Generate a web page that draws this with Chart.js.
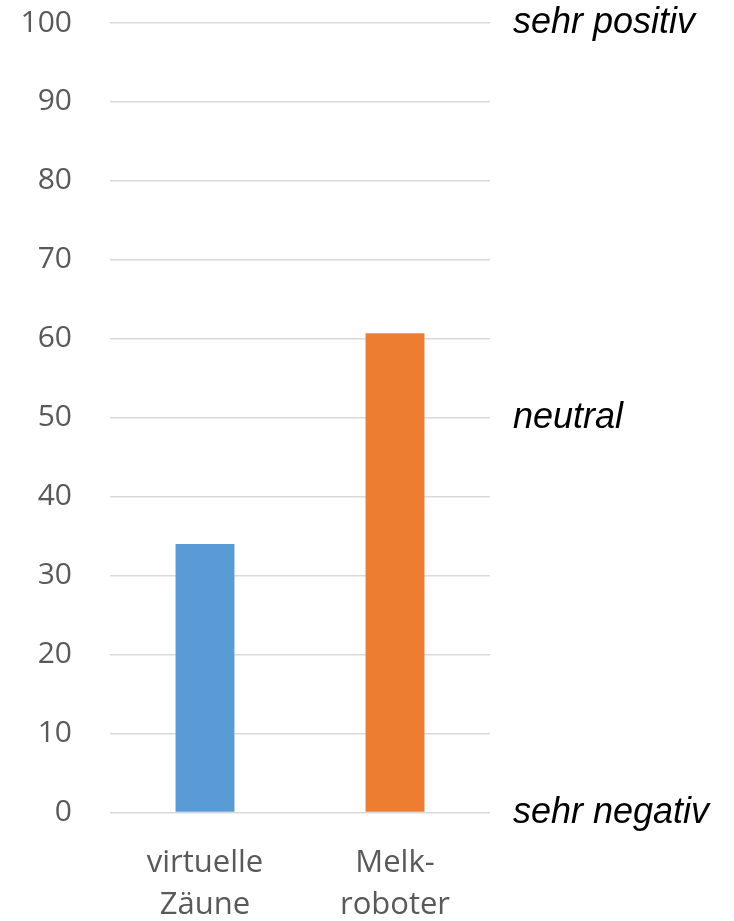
<!DOCTYPE html>
<html>
<head>
<meta charset="utf-8">
<script src="https://cdn.jsdelivr.net/npm/chart.js@4"></script>
<style>
html,body{margin:0;padding:0;background:#fff;}
#wrap{width:734px;height:921px;position:relative;}
</style>
</head>
<body>
<div id="wrap"><canvas id="c" width="734" height="921"></canvas></div>
<script>
const categories = [["virtuelle", "Zäune"], ["Melk-", "roboter"]];
const values = [34, 60.7];
const barColors = ["#5B9BD5", "#ED7D31"];
const leftTicks = [0, 10, 20, 30, 40, 50, 60, 70, 80, 90, 100];
const rightTickValues = [0, 50, 100];
const rightTickLabels = ["sehr negativ", "neutral", "sehr positiv"];

new Chart(document.getElementById('c'), {
  type: 'bar',
  data: {
    labels: categories,
    datasets: [{
      data: values,
      backgroundColor: barColors,
      borderWidth: 0,
      categoryPercentage: 1,
      barPercentage: 0.31,
      yAxisID: 'y'
    }]
  },
  options: {
    responsive: false,
    animation: false,
    devicePixelRatio: 1,
    layout: { padding: { top: 23, bottom: 0, left: 0, right: 0 } },
    plugins: { legend: { display: false }, tooltip: { enabled: false } },
    scales: {
      x: {
        grid: { display: false },
        border: { display: false },
        ticks: { color: '#595959', font: { family: 'Open Sans', size: 31, lineHeight: 1.35 }, padding: 22, maxRotation: 0 },
        afterFit: s => { s.height = 108.5; }
      },
      y: {
        position: 'left',
        min: 0, max: 100,
        afterBuildTicks: s => { s.ticks = leftTicks.map(v => ({ value: v })); },
        grid: { color: '#d9d9d9', lineWidth: 1.5, drawTicks: false },
        border: { display: false },
        ticks: { color: '#595959', font: { family: 'Open Sans', size: 30, lineHeight: 1 }, padding: 38 },
        afterFit: s => { s.width = 110; s.paddingTop = 0; s.paddingBottom = 0; }
      },
      y2: {
        position: 'right',
        min: 0, max: 100,
        afterBuildTicks: s => { s.ticks = rightTickValues.map(v => ({ value: v })); },
        grid: { display: false, drawTicks: false },
        border: { display: false },
        ticks: {
          color: '#000000',
          font: { family: 'Liberation Sans', size: 36, style: 'italic', lineHeight: 1 },
          padding: 23,
          callback: (v) => { const i = rightTickValues.indexOf(v); return i >= 0 ? rightTickLabels[i] : ''; }
        },
        afterFit: s => { s.width = 244; s.paddingTop = 0; s.paddingBottom = 0; }
      }
    }
  }
});
</script>
</body>
</html>
